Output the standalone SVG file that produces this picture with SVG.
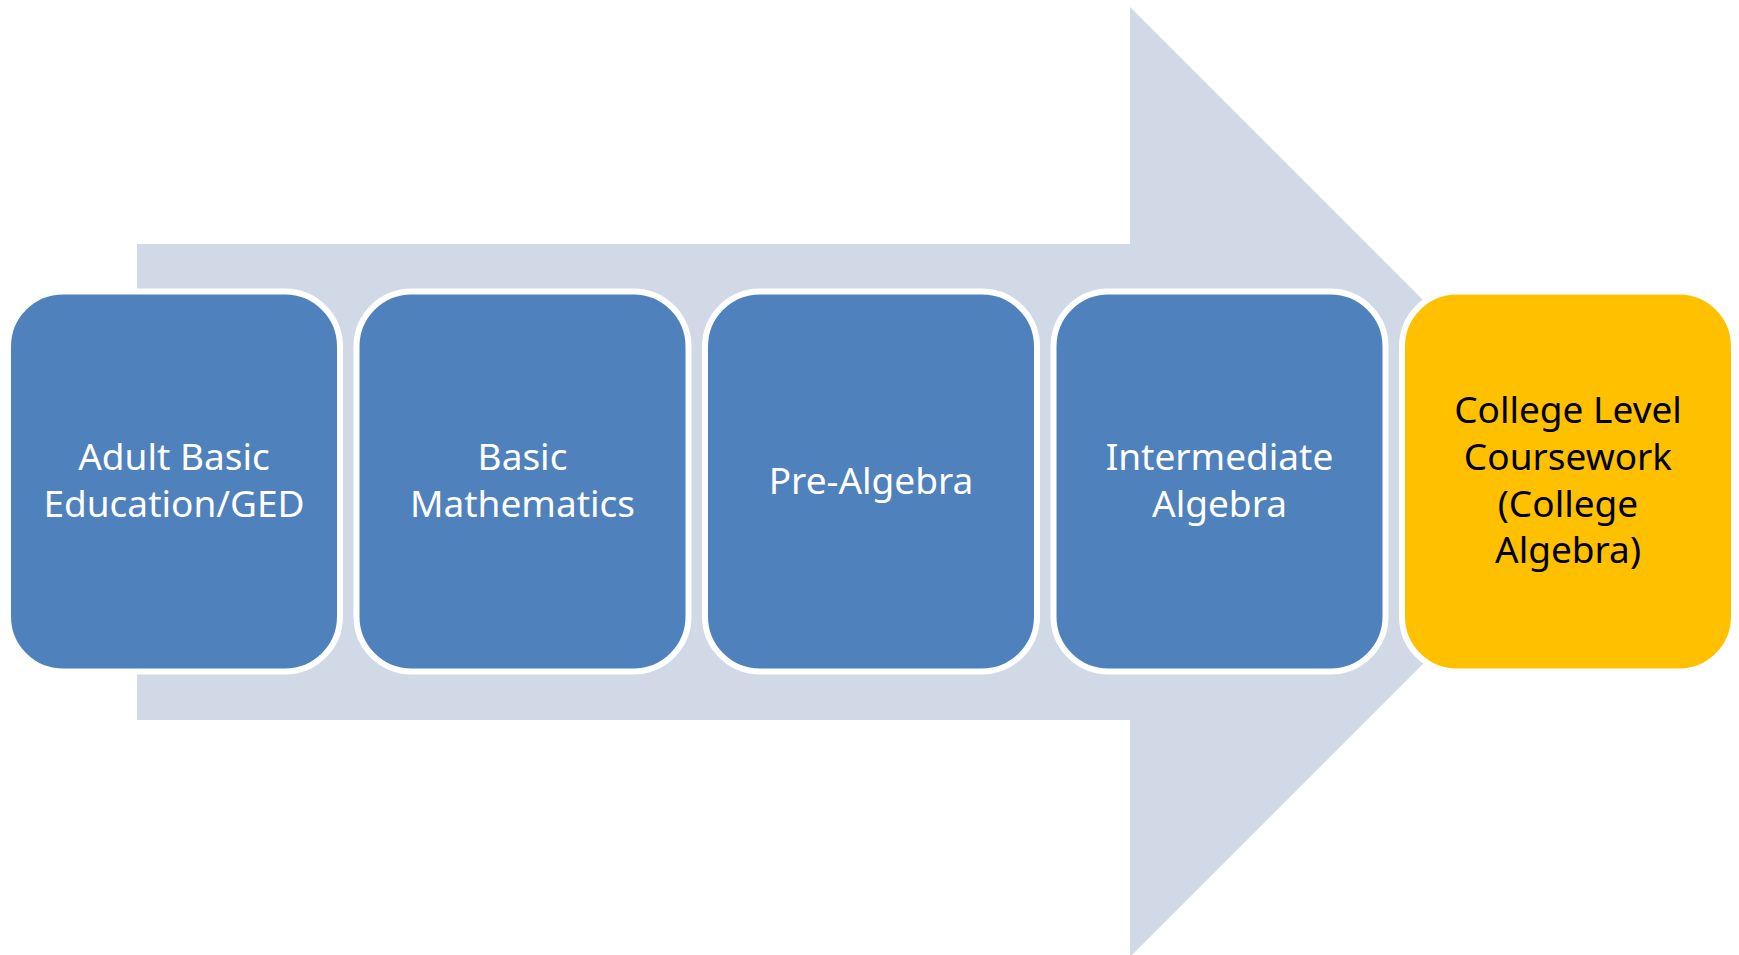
<svg xmlns="http://www.w3.org/2000/svg" width="1739" height="955" viewBox="0 0 1739 955">
  <style>
    .box { stroke: #FFFFFF; stroke-width: 6; }
    .blue { fill: #4F81BD; }
    .gold { fill: #FFC000; }
    .lbl { font-family: "Noto Sans", "Open Sans", "Liberation Sans", sans-serif; font-size: 37px; text-anchor: middle; }
    .w { fill: #FFFFFF; }
    .k { fill: #000000; }
  </style>
  <rect x="0" y="0" width="1739" height="955" fill="#FFFFFF"/>
  <g id="background-arrow">
    <polygon points="137,244 1130,244 1130,7 1605,482 1130,957 1130,720 137,720" fill="#D1D9E7"/>
  </g>
  <g id="connectors"></g>
  <g id="node-abe">
    <rect class="box blue" x="8" y="291.5" width="332" height="380" rx="55" ry="55"/>
    <text class="lbl w" x="174" y="470">Adult Basic</text>
    <text class="lbl w" x="174" y="517">Education/GED</text>
  </g>
  <g id="node-basic-math">
    <rect class="box blue" x="356.5" y="291.5" width="332" height="380" rx="55" ry="55"/>
    <text class="lbl w" x="522.5" y="470">Basic</text>
    <text class="lbl w" x="522.5" y="517">Mathematics</text>
  </g>
  <g id="node-pre-algebra">
    <rect class="box blue" x="705" y="291.5" width="332" height="380" rx="55" ry="55"/>
    <text class="lbl w" x="871" y="493.5">Pre-Algebra</text>
  </g>
  <g id="node-intermediate">
    <rect class="box blue" x="1053.5" y="291.5" width="332" height="380" rx="55" ry="55"/>
    <text class="lbl w" x="1219.5" y="470">Intermediate</text>
    <text class="lbl w" x="1219.5" y="517">Algebra</text>
  </g>
  <g id="node-college">
    <rect class="box gold" x="1402" y="291.5" width="332" height="380" rx="55" ry="55"/>
    <text class="lbl k" x="1568" y="423">College Level</text>
    <text class="lbl k" x="1568" y="470">Coursework</text>
    <text class="lbl k" x="1568" y="517">(College</text>
    <text class="lbl k" x="1568" y="563">Algebra)</text>
  </g>
</svg>
